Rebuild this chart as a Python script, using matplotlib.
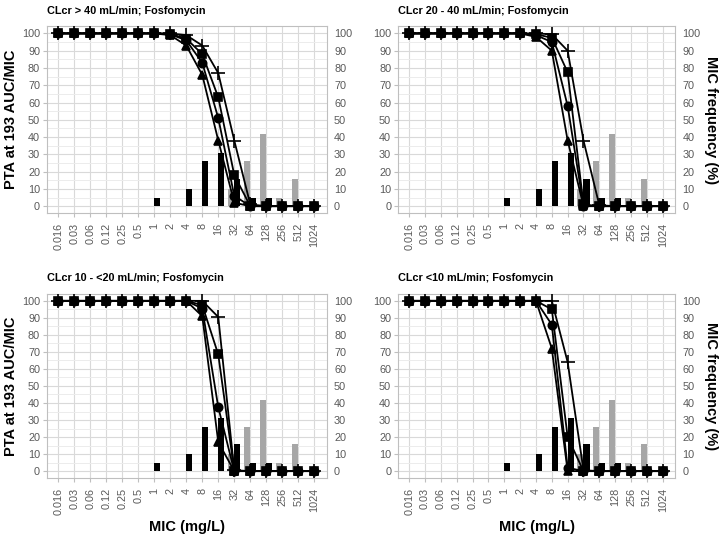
"""PTA of fosfomycin across renal function groups, with MIC frequency bars."""
import numpy as np
import matplotlib.pyplot as plt
from matplotlib.ticker import MultipleLocator

plt.rcParams['font.family'] = ['Liberation Sans', 'DejaVu Sans']

mic_labels = ["0.016", "0.03", "0.06", "0.12", "0.25", "0.5", "1", "2", "4",
              "8", "16", "32", "64", "128", "256", "512", "1024"]
freq_black = [0, 0, 0, 0, 0, 0, 5, 0, 10, 26, 31, 16, 5, 5, 0, 0, 0]
freq_gray = [0, 0, 0, 0, 0, 0, 0, 0, 0, 0, 0, 10, 26, 42, 5, 16, 0]

titles = ["CLcr > 40 mL/min; Fosfomycin", "CLcr 20 - 40 mL/min; Fosfomycin",
          "CLcr 10 - <20 mL/min; Fosfomycin", "CLcr <10 mL/min; Fosfomycin"]

# PTA (%) per MIC, one list per marker series
tri_gt40 = [100, 100, 100, 100, 100, 100, 100, 99, 93, 76, 38, 2, 0, 0, 0, 0, 0]
cir_gt40 = [100, 100, 100, 100, 100, 100, 100, 99.5, 96, 83, 51, 6, 0, 0, 0, 0, 0]
sqr_gt40 = [100, 100, 100, 100, 100, 100, 100, 99.7, 97, 88, 63, 18, 0, 0, 0, 0, 0]
pls_gt40 = [100, 100, 100, 100, 100, 100, 100, 100, 99, 93, 77, 38, 1, 0, 0, 0, 0]

tri_20_40 = [100, 100, 100, 100, 100, 100, 100, 100, 98, 90, 38, 0, 0, 0, 0, 0, 0]
cir_20_40 = [100, 100, 100, 100, 100, 100, 100, 100, 99, 95, 58, 0, 0, 0, 0, 0, 0]
sqr_20_40 = [100, 100, 100, 100, 100, 100, 100, 100, 99.5, 97.5, 77.5, 1, 0, 0, 0, 0, 0]
pls_20_40 = [100, 100, 100, 100, 100, 100, 100, 100, 100, 99.5, 90, 38, 0.5, 0, 0, 0, 0]

tri_10_20 = [100, 100, 100, 100, 100, 100, 100, 100, 100, 91, 17, 0, 0, 0, 0, 0, 0]
cir_10_20 = [100, 100, 100, 100, 100, 100, 100, 100, 100, 95.5, 37.5, 0, 0, 0, 0, 0, 0]
sqr_10_20 = [100, 100, 100, 100, 100, 100, 100, 100, 100, 97.5, 68.5, 0, 0, 0, 0, 0, 0]
pls_10_20 = [100, 100, 100, 100, 100, 100, 100, 100, 100, 100, 90.5, 0.5, 0, 0, 0, 0, 0]

tri_lt10 = [100, 100, 100, 100, 100, 100, 100, 100, 100, 72, 0, 0, 0, 0, 0, 0, 0]
cir_lt10 = [100, 100, 100, 100, 100, 100, 100, 100, 100, 86, 2, 0, 0, 0, 0, 0, 0]
sqr_lt10 = [100, 100, 100, 100, 100, 100, 100, 100, 100, 95, 20, 0, 0, 0, 0, 0, 0]
pls_lt10 = [100, 100, 100, 100, 100, 100, 100, 100, 100, 100, 64, 0.5, 0, 0, 0, 0, 0]

panels = [
    (tri_gt40, cir_gt40, sqr_gt40, pls_gt40),
    (tri_20_40, cir_20_40, sqr_20_40, pls_20_40),
    (tri_10_20, cir_10_20, sqr_10_20, pls_10_20),
    (tri_lt10, cir_lt10, sqr_lt10, pls_lt10),
]

boxes = [[0.0653, 0.601, 0.389, 0.350], [0.553, 0.601, 0.385, 0.350],
         [0.0653, 0.105, 0.389, 0.345], [0.553, 0.105, 0.385, 0.345]]

tick_col = "#595959"
x = np.arange(len(mic_labels))
bw = 0.38

fig = plt.figure(figsize=(7.2, 5.34), dpi=100)
for i, (box, series) in enumerate(zip(boxes, panels)):
    ax = fig.add_axes(box)
    ax.bar(x, freq_black, width=bw, align="edge", color="black", zorder=2)
    ax.bar(x, freq_gray, width=-bw, align="edge", color="#a6a6a6", zorder=2)
    for ys, mk, ms in zip(series, ["^", "o", "s", "+"], [6, 6, 6, 10]):
        ax.plot(x, ys, color="black", lw=1.3, marker=mk, ms=ms, mew=1.2, zorder=3)

    ax.set_xlim(-0.7, 16.8)
    ax.set_ylim(-4, 104.2)
    ax.set_xticks(x)
    ax.set_xticklabels(mic_labels, rotation=90)
    ax.yaxis.set_major_locator(MultipleLocator(10))
    ax.yaxis.set_minor_locator(MultipleLocator(5))
    ax.grid(which="major", color="#d9d9d9", lw=0.8, zorder=0)
    ax.grid(which="minor", axis="y", color="#ececec", lw=0.7, zorder=0)
    ax.set_axisbelow(True)
    ax.tick_params(axis="both", which="major", labelsize=7.8, colors=tick_col,
                   length=3, width=0.8, color="#bfbfbf", pad=2,
                   labelleft=True, labelright=True, right=False)
    ax.tick_params(axis="x", pad=4)
    ax.tick_params(which="minor", length=0)
    for sp in ax.spines.values():
        sp.set_color("#bfbfbf")
        sp.set_linewidth(0.8)

    ax.set_title(titles[i], loc="left", fontsize=7.8, fontweight="bold", pad=9)
    if i % 2 == 0:
        ax.set_ylabel("PTA at 193 AUC/MIC", fontsize=10.5, fontweight="bold", labelpad=3)
    else:
        ax.yaxis.set_label_position("right")
        ax.set_ylabel("MIC frequency (%)", fontsize=10.5, fontweight="bold",
                      rotation=270, labelpad=13)
    if i >= 2:
        ax.set_xlabel("MIC (mg/L)", fontsize=10.5, fontweight="bold", labelpad=4)

fig.savefig("out.png", dpi=100)
